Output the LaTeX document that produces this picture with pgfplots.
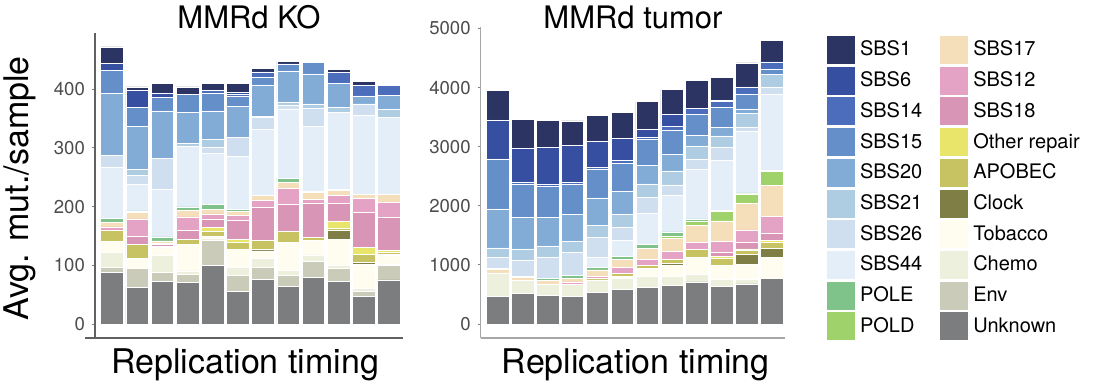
\documentclass[border=0pt]{standalone}
\usepackage{pgfplots}
\pgfplotsset{compat=1.18}
\usepackage{pgfplotstable}
\usepackage{fontspec}
\setmainfont{TeX Gyre Heros}

\definecolor{cSBS1}{HTML}{2B3462}
\definecolor{cSBS6}{HTML}{364FA0}
\definecolor{cSBS14}{HTML}{4B6DBB}
\definecolor{cSBS15}{HTML}{648FC9}
\definecolor{cSBS20}{HTML}{82ACD6}
\definecolor{cSBS21}{HTML}{AECDE2}
\definecolor{cSBS26}{HTML}{CFDFF0}
\definecolor{cSBS44}{HTML}{E3EEF8}
\definecolor{cPOLE}{HTML}{7FC28A}
\definecolor{cPOLD}{HTML}{A0D26B}
\definecolor{cSBS17}{HTML}{F5DFBB}
\definecolor{cSBS12}{HTML}{E4A2C5}
\definecolor{cSBS18}{HTML}{D995B5}
\definecolor{cOther}{HTML}{E8E56A}
\definecolor{cAPOBEC}{HTML}{C7C363}
\definecolor{cClock}{HTML}{7F7F45}
\definecolor{cTobacco}{HTML}{FFFDF0}
\definecolor{cChemo}{HTML}{EEF0DE}
\definecolor{cEnv}{HTML}{CACBB8}
\definecolor{cUnknown}{HTML}{7C7D7F}
\definecolor{ticktext}{HTML}{4D4D4D}

% MMRd KO
\pgfplotstableread{
x Unknown Env Chemo Tobacco Clock APOBEC Other SBS18 SBS12 SBS17 POLD POLE SBS44 SBS26 SBS21 SBS20 SBS15 SBS14 SBS6 SBS1
0  87.8  9.6 25.5 18.1  0   18.7  0    1    5    7.4  0  6.8  87.9 19.3  0   105.4 39.1  0   11.9 28.4
1  62.3 33.4  0   16.5  0   23.8  0   13   30.1 10.8  0  2.8  45.9 15.3  9.6  72.6 32.9  0   28.3  6.3
2  73.6 14.8 28.9 13    0    2.2  0    2.9  2.3  4    0  6.8  81.6 51.6  0    81.1 23.2  0    6.8 16.5
3  71.4 13    6.3 44.7  0    8.5  0   15.3 23.3 10.7  0  6.3 102.6  0   5.6  52.8 30.6  0    0   12.5
4 100.3 42.5  4    3    0    8.3  6.8 14.2  8.5  7.9  0  8.5  87.3  9.1 14.2  48.2 30    4.5  0   12.5
5  56.6 27.2 13   30.6  0   12.5  4.5 32.3  9.1  6.8  0  3.4  89.6 31.8  0    52.7 17    3.9  3.4 14.8
6  76.5 19.8 15.9 12.5  3.3 14.8  0   55.6 13    7.9  0  0   112.3 19.9  2.2  53.3 13.6  8.5  0    5.7
7  64   19.3  7.9 47.6  0   18.7  0   46   27.7  9.7  0  7.9 117.4  6.2  5.7  52.7 11.9  0    0    3.9
8  80.4 26.1 11.4 24.9  0    4.5  0   57.8  8   11.9  0  1.7 109.4 31.2  7.4  51   19.3  0    0    2.2
9  73.6 21.6  5.6 44.2 14.8  3.4 12.5 29.4 13.7  9.6  0  1.7 129.8  0    9.1  40.8  0   18.7  0    5.2
10 47    8.5  6.2 40.8  3.4 12.5 11.9 59.6 24.4  7.3  0  0   134.3 18.8  0    13.6  0   17.6  0    7.4
11 75.4 25.4  2   15    1    3.5  4   55   25.5 14.7  0  0   130.9  0   13.1  23.3  0   17    0    2.8
}\datL

% MMRd tumor
\pgfplotstableread{
x Unknown Env Chemo Tobacco Clock APOBEC Other SBS18 SBS12 SBS17 POLD POLE SBS44 SBS26 SBS21 SBS20 SBS15 SBS14 SBS6 SBS1
0  462 0 401   0   0   0  0   0   0  56   0  28    0 175 164 660 846   0 660 502
1  519 0 214   0   0   0  0   0   0  51   0  28    0 271 186 536 564  34 569 491
2  479 0 187   0   0   0  0   0   0  67   0  45    0 344 198 479 525  39 626 457
3  468 0 198   0   0   0  0   0  45  67   0  45    0 395 181 457 507  34 626 412
4  541 0 204   0   0  28  0   0  39 102   0  50  170 338 203 457 491  33 435 440
5  587 0 186  39   0  45  0   0 107 130   0  45  282 220 220 378 485  45 372 440
6  620 0 192 130   0  56  0   0  96 186   0  68  530 260 231 310 451  34 130 474
7  649 0 163 186  28  68  0   0 130 225  40  68  620 175 237 287 401  62 209 417
8  711 0 135 282   0 130  0   0 118 299  68  34  846 163 226 175 366  96   0 474
9  632 0 124 242   0 113 28  74 186 344 158  17  857 209 197 152 333  96  28 384
10 677 0  79 259 164  62 28 107 215 445 164  17 1037  79 237  68 254 118   0 406
11 778 0   0 344 158  96 34 124 282 525 242  11 1298 107 220   0  96 118   0 361
}\datR

\pgfplotsset{
  panel/.style={
    scale only axis,
    ybar stacked,
    bar width=0.9,
    axis lines*=left,
    xtick=\empty,
    tick align=outside,
    major tick length=1.5pt,
    ytick style={draw=gray, line width=0.5pt},
    yticklabel style={font=\fontsize{9.3}{11}\selectfont, text=ticktext,
      /pgf/number format/1000 sep={}},
    /pgf/number format/assume math mode=true,
    every axis plot/.append style={draw=white, line width=0.3pt},
    every axis title shift=0pt,
    title style={font=\fontsize{15.5}{18}\selectfont, anchor=base},
    xlabel style={font=\fontsize{17}{20}\selectfont, anchor=base},
    ylabel style={font=\fontsize{17}{20}\selectfont},
  }
}

\begin{document}
\begin{tikzpicture}
\useasboundingbox (0,0) rectangle (546.5pt,194pt);

% ---------------- MMRd KO ----------------
\begin{axis}[panel,
  at={(47.5pt,25pt)}, anchor=south west,
  width=154pt, height=152.5pt,
  xmin=-0.675, xmax=11.56, ymin=-23.3, ymax=495.4,
  ytick={0,100,200,300,400},
  axis line style={draw=black!62, line width=0.8pt},
  x axis line style={shorten <=-5pt},
  title={MMRd KO},
  title style={at={(axis description cs:0.5,1)}, anchor=base, yshift=2.35pt},
  xlabel={Replication timing},
  xlabel style={at={(axis description cs:0.5,0)}, yshift=-17.65pt, xshift=-2pt},
  ylabel={Avg. mut./sample},
  ylabel style={at={(axis description cs:-0.2143,0.4908)}, anchor=base},
]
\pgfplotsinvokeforeach{Unknown,Env,Chemo,Tobacco,Clock,APOBEC,Other,SBS18,SBS12,SBS17,POLD,POLE,SBS44,SBS26,SBS21,SBS20,SBS15,SBS14,SBS6,SBS1}{
  \addplot[fill=c#1] table[x=x, y=#1] {\datL};
}
\end{axis}

% ---------------- MMRd tumor ----------------
\begin{axis}[panel,
  at={(240.35pt,25pt)}, anchor=south west,
  width=152.3pt, height=155.5pt,
  xmin=-0.69, xmax=11.55, ymin=-237, ymax=5025,
  ytick={0,1000,2000,3000,4000,5000},
  axis line style={draw=black!35, line width=0.7pt},
  title={MMRd tumor},
  title style={at={(axis description cs:0.5,1)}, anchor=base, yshift=-0.65pt},
  xlabel={Replication timing},
  xlabel style={at={(axis description cs:0.5,0)}, yshift=-17.65pt, xshift=1.4pt},
]
\pgfplotsinvokeforeach{Unknown,Env,Chemo,Tobacco,Clock,APOBEC,Other,SBS18,SBS12,SBS17,POLD,POLE,SBS44,SBS26,SBS21,SBS20,SBS15,SBS14,SBS6,SBS1}{
  \addplot[fill=c#1] table[x=x, y=#1] {\datR};
}
\end{axis}

% ---------------- Legend ----------------
\begin{axis}[hide axis, scale only axis, width=10pt, height=10pt,
  at={(413.5pt,176pt)}, anchor=north west,
  xmin=0, xmax=1, ymin=0, ymax=1,
  legend columns=2,
  legend cell align=left,
  legend style={at={(0,1)}, anchor=north west, draw=none, fill=none,
    inner sep=0pt, outer sep=0pt, row sep=1.35pt,
    font=\fontsize{10}{12}\selectfont,
    nodes={inner sep=0pt},
    /tikz/every odd column/.append style={column sep=2.5pt},
    /tikz/every even column/.append style={column sep=9pt}},
  legend image code/.code={\fill[#1] (0pt,-7pt) rectangle (14pt,7pt);},
]
\addlegendimage{fill=cSBS1, draw=none}\addlegendentry{SBS1}
\addlegendimage{fill=cSBS17, draw=none}\addlegendentry{SBS17}
\addlegendimage{fill=cSBS6, draw=none}\addlegendentry{SBS6}
\addlegendimage{fill=cSBS12, draw=none}\addlegendentry{SBS12}
\addlegendimage{fill=cSBS14, draw=none}\addlegendentry{SBS14}
\addlegendimage{fill=cSBS18, draw=none}\addlegendentry{SBS18}
\addlegendimage{fill=cSBS15, draw=none}\addlegendentry{SBS15}
\addlegendimage{fill=cOther, draw=none}\addlegendentry{Other repair}
\addlegendimage{fill=cSBS20, draw=none}\addlegendentry{SBS20}
\addlegendimage{fill=cAPOBEC, draw=none}\addlegendentry{APOBEC}
\addlegendimage{fill=cSBS21, draw=none}\addlegendentry{SBS21}
\addlegendimage{fill=cClock, draw=none}\addlegendentry{Clock}
\addlegendimage{fill=cSBS26, draw=none}\addlegendentry{SBS26}
\addlegendimage{fill=cTobacco, draw=none}\addlegendentry{Tobacco}
\addlegendimage{fill=cSBS44, draw=none}\addlegendentry{SBS44}
\addlegendimage{fill=cChemo, draw=none}\addlegendentry{Chemo}
\addlegendimage{fill=cPOLE, draw=none}\addlegendentry{POLE}
\addlegendimage{fill=cEnv, draw=none}\addlegendentry{Env}
\addlegendimage{fill=cPOLD, draw=none}\addlegendentry{POLD}
\addlegendimage{fill=cUnknown, draw=none}\addlegendentry{Unknown}
\end{axis}
\end{tikzpicture}
\end{document}
